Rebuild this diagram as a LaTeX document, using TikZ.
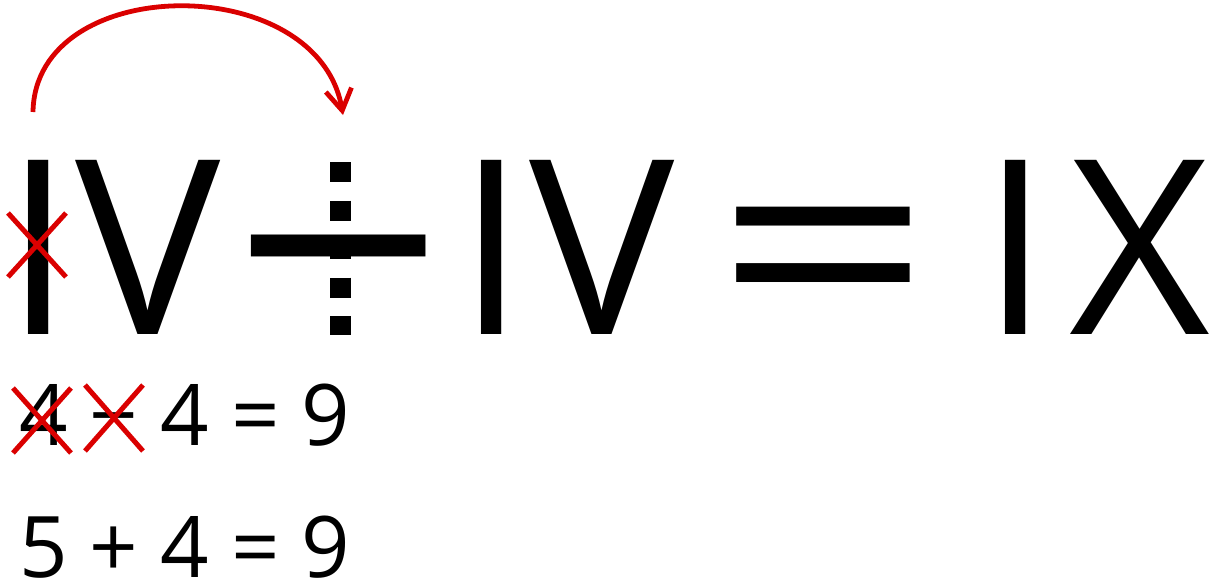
\documentclass[tikz,border=0pt]{standalone}
\usepackage{fontspec}
\setmainfont{Open Sans}
\usetikzlibrary{arrows.meta}
\definecolor{penred}{RGB}{218,0,0}
\begin{document}
\begin{tikzpicture}[x=1pt,y=-1pt,
  big/.style={inner sep=0pt, anchor=base, font=\fontsize{244}{244}\selectfont},
  bigsym/.style={inner sep=0pt, anchor=base, font=\fontsize{248}{248}\selectfont},
  small/.style={inner sep=0pt, anchor=base west, font=\fontsize{85}{85}\selectfont},
  cross/.style={penred, line width=5pt},
  swing/.style={penred, line width=4.8pt, -{Straight Barb[length=21pt,width=26pt]}},
  dashbar/.style={line width=21pt, dash pattern=on 20pt off 18.5pt}]
\useasboundingbox (0,0) rectangle (1215,582);
% big equation
\node[big] (i1) at (38.5,334) {I};
\node[big] (v1) at (148.5,334) {V};
\node[bigsym] (minus) at (339,360.8) {\scalebox{1.5}[1.31]{−}};
\node[big] (i2) at (491.5,334) {I};
\node[big] (v2) at (602,334) {V};
\node[bigsym] (eq) at (824,344.3) {\scalebox{1.54}[1.14]{=}};
\node[big] (i3) at (1016,334) {I};
\node[big] (x3) at (1139.5,334) {X};
% dashed stroke turning the minus into a plus
\coordinate (dtop) at (340.5,162);
\coordinate (dbot) at (340.5,335);
\draw[dashbar] (dtop) -- (dbot);
% curved arrow: the I moves onto the minus
\coordinate (arcstart) at (33,112);
\coordinate (arcend) at (343,115);
\draw[swing] (arcstart) .. controls (35,-28) and (318,-30) .. (arcend);
% cross on the first I
\coordinate (cx1) at (37,245);
\draw[cross] (cx1) ++(-29,-32) -- ++(58,64) (cx1) ++(-29,32) -- ++(58,-64);
% lines below
\node[small] (l1) at (19,445) {4 − 4 = 9};
\node[small] (l2) at (19,577) {5 + 4 = 9};
\coordinate (cx2) at (42,420.5);
\coordinate (cx3) at (114,418);
\draw[cross] (cx2) ++(-29,-32.5) -- ++(58,65) (cx2) ++(-29,32.5) -- ++(58,-65);
\draw[cross] (cx3) ++(-29,-33) -- ++(58,66) (cx3) ++(-29,33) -- ++(58,-66);
\end{tikzpicture}
\end{document}
